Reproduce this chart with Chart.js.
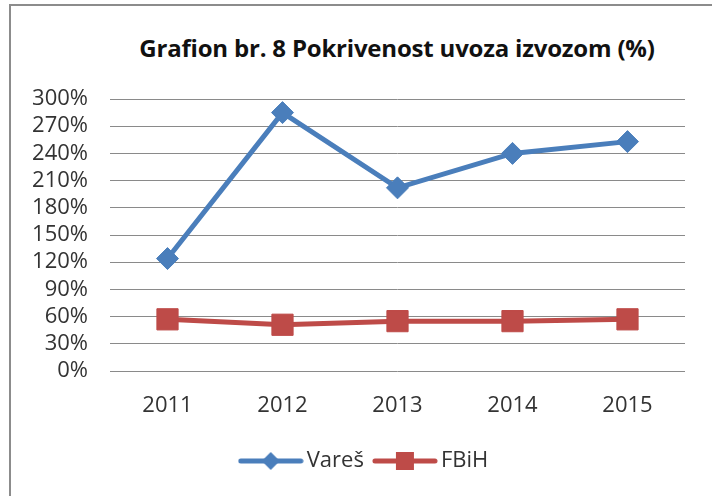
<!DOCTYPE html>
<html>
<head>
<meta charset="utf-8">
<script src="https://cdn.jsdelivr.net/npm/chart.js@4/dist/chart.umd.min.js"></script>
<style>
  body { margin: 0; background: #fff; }
  #wrap { position: relative; width: 712px; height: 496px; overflow: hidden; }
  #frame { position: absolute; left: 9px; top: 4px; width: 800px; height: 600px;
           border-left: 2px solid #8c8c8c; border-top: 2px solid #8c8c8c; }
  #title { position: absolute; left: 0; top: 33px; width: 794px; text-align: center;
           font: bold 24px "Open Sans", sans-serif; line-height: 30px; color: #111;
           letter-spacing: -0.2px; }
  canvas { position: absolute; left: 0; top: 0; }
</style>
</head>
<body>
<div id="wrap">
  <div id="frame"></div>
  <div id="title">Grafion br. 8 Pokrivenost uvoza izvozom (%)</div>
  <canvas id="chart" width="712" height="496"></canvas>
</div>
<script>
var years = ['2011', '2012', '2013', '2014', '2015']
var vares = [124, 285, 202, 240, 253]
var fbih = [57, 51, 55, 55, 57]
var seriesNames = ['Vareš', 'FBiH']

var blue = '#4a7ebb'
var red = '#be4b48'

// little legend glyph: line with marker in the middle
function legendGlyph(color, shape) {
  var c = document.createElement('canvas')
  c.width = 66
  c.height = 24
  var ctx = c.getContext('2d')
  ctx.strokeStyle = color
  ctx.fillStyle = color
  ctx.lineWidth = 5
  ctx.lineCap = 'round'
  ctx.beginPath()
  ctx.moveTo(3, 12)
  ctx.lineTo(63, 12)
  ctx.stroke()
  ctx.beginPath()
  if (shape == 'diamond') {
    ctx.moveTo(33, 3); ctx.lineTo(42, 12); ctx.lineTo(33, 21); ctx.lineTo(24, 12)
  } else {
    ctx.rect(24, 3, 18, 18)
  }
  ctx.closePath()
  ctx.fill()
  return c
}
var glyphs = [legendGlyph(blue, 'diamond'), legendGlyph(red, 'square')]

var font = '"Open Sans", sans-serif'

var config = {
  type: 'line',
  data: {
    labels: years,
    datasets: [
      {
        label: seriesNames[0],
        data: vares,
        borderColor: blue,
        backgroundColor: blue,
        borderWidth: 5,
        pointStyle: 'rectRot',
        pointRadius: 11,
        pointBorderWidth: 1,
        tension: 0
      },
      {
        label: seriesNames[1],
        data: fbih,
        borderColor: red,
        backgroundColor: red,
        borderWidth: 5,
        pointStyle: 'rect',
        pointRadius: 15,
        pointBorderWidth: 1,
        tension: 0
      }
    ]
  },
  options: {
    responsive: false,
    animation: false,
    layout: { padding: { left: 31, right: 9, top: 99, bottom: 14 } },
    scales: {
      x: {
        offset: true,
        grid: { display: false },
        border: { display: false },
        ticks: { padding: 14, color: '#333', font: { family: font, size: 22 } },
        afterFit: function(s) { s.height = 63 }
      },
      y: {
        min: 0,
        max: 300,
        grid: { color: '#8a8a8a', lineWidth: 1, drawTicks: false },
        border: { display: false },
        ticks: {
          stepSize: 30,
          autoSkip: false,
          padding: 22,
          color: '#333',
          font: { family: font, size: 22 },
          callback: function(v) { return v + '%' }
        },
        afterFit: function(s) { s.width = 79 }
      },
      yr: {
        type: 'linear',
        position: 'right',
        grid: { display: false },
        border: { display: false },
        ticks: { display: false },
        afterFit: function(s) { s.width = 18 }
      }
    },
    plugins: {
      title: { display: false },
      tooltip: { enabled: false },
      legend: {
        position: 'bottom',
        labels: {
          usePointStyle: true,
          pointStyleWidth: 50,
          padding: 16,
          color: '#333',
          font: { family: font, size: 22 },
          generateLabels: function(chart) {
            var items = Chart.defaults.plugins.legend.labels.generateLabels(chart)
            items.forEach(function(it, i) { it.pointStyle = glyphs[i] })
            return items
          }
        }
      }
    }
  }
}

new Chart(document.getElementById('chart'), config)
</script>
</body>
</html>
